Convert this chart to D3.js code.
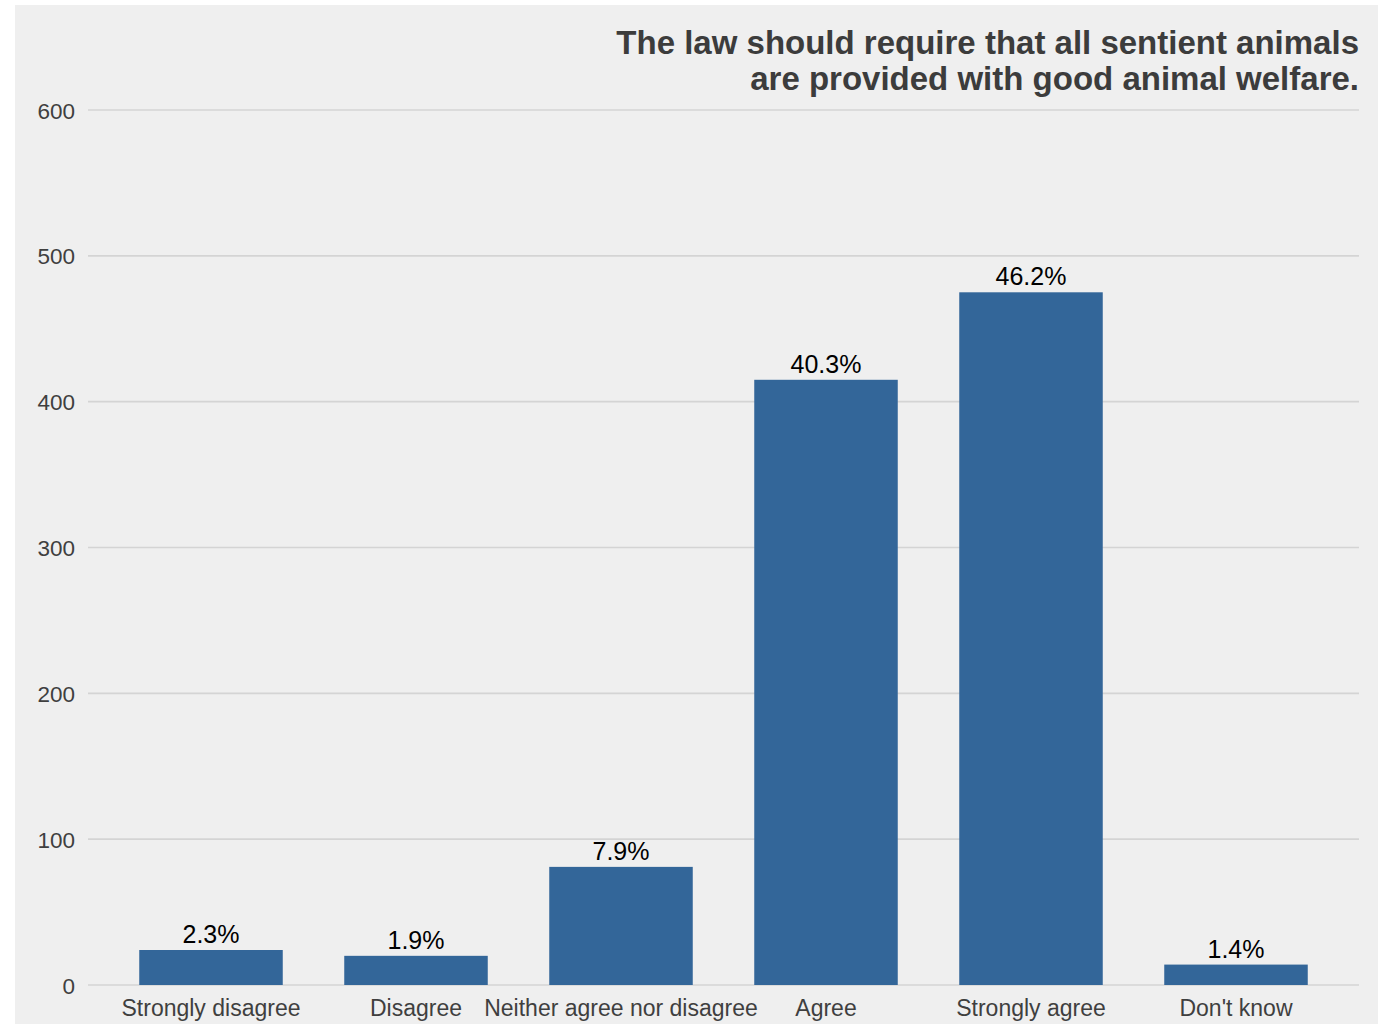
<!DOCTYPE html>
<html>
<head>
<meta charset="utf-8">
<script src="https://cdn.jsdelivr.net/npm/d3@7"></script>
<style>
  html, body { margin: 0; padding: 0; background: #ffffff; }
  svg { display: block; }
  text { font-family: "Liberation Sans", Arial, sans-serif; }
</style>
</head>
<body>
<svg id="chart" width="1378" height="1024"></svg>
<script>
// Survey responses: "The law should require that all sentient animals are provided with good animal welfare."
const categories = ["Strongly disagree", "Disagree", "Neither agree nor disagree", "Agree", "Strongly agree", "Don't know"];
const counts = [24, 20, 81, 415, 475, 14];
const yTicks = [0, 100, 200, 300, 400, 500, 600];
const titleLines = ["The law should require that all sentient animals", "are provided with good animal welfare."];

const W = 1378, H = 1024;
const panel = { x: 15, y: 5, w: W - 15, h: H - 5 };
const plot = { left: 88, right: 1359, top: 110, bottom: 985 };

const svg = d3.select("#chart");

svg.append("rect")
  .attr("x", panel.x).attr("y", panel.y)
  .attr("width", panel.w).attr("height", panel.h)
  .attr("fill", "#efefef");

const total = d3.sum(counts);
const data = categories.map((c, i) => ({ cat: c, n: counts[i], pct: counts[i] / total * 100 }));

// bars take 0.7 of each step, with 0.6-step margins at both ends
const x = d3.scaleBand()
  .domain(categories)
  .range([plot.left, plot.right])
  .paddingInner(0.3)
  .paddingOuter(0.25);
const y = d3.scaleLinear().domain([0, 600]).range([plot.bottom, plot.top]);

function label(g, tx, ty, str, anchor, size, color, weight) {
  const t = g.append("text")
    .attr("x", tx).attr("y", ty)
    .attr("text-anchor", anchor)
    .attr("font-size", size)
    .attr("fill", color)
    .text(str);
  if (weight) t.attr("font-weight", weight);
  return t;
}

// gridlines
const grid = svg.append("g").attr("class", "grid");
grid.selectAll("line").data(yTicks).join("line")
  .attr("x1", plot.left).attr("x2", plot.right)
  .attr("y1", d => y(d)).attr("y2", d => y(d))
  .attr("stroke", "#d4d4d4").attr("stroke-width", 1.6);

// y axis labels
const yAx = svg.append("g").attr("class", "y-axis");
yTicks.forEach(v => label(yAx, 75, y(v) + 8.5, String(v), "end", 22.5, "#3f3f3f"));

// bars
svg.append("g").attr("class", "bars")
  .selectAll("rect").data(data).join("rect")
  .attr("x", d => x(d.cat))
  .attr("width", x.bandwidth())
  .attr("y", d => y(d.n))
  .attr("height", d => y(0) - y(d.n))
  .attr("fill", "#336699");

// value labels
const vl = svg.append("g").attr("class", "value-labels");
data.forEach(d => label(vl, x(d.cat) + x.bandwidth() / 2, y(d.n) - 7, d.pct.toFixed(1) + "%", "middle", 25, "#000000"));

// x axis labels
const xAx = svg.append("g").attr("class", "x-axis");
categories.forEach(c => label(xAx, x(c) + x.bandwidth() / 2, 1016, c, "middle", 23, "#3f3f3f"));

// title
const tg = svg.append("g").attr("class", "title");
titleLines.forEach((s, i) => label(tg, plot.right, 54 + i * 36, s, "end", 33, "#3c3c3c", "bold"));
</script>
</body>
</html>
